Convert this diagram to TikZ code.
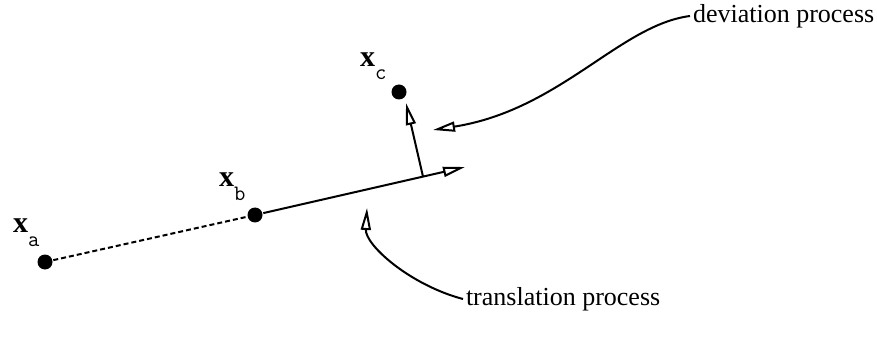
\documentclass[tikz,border=0pt]{standalone}
\usepackage{fontspec}
\setmainfont{Liberation Serif}
\usetikzlibrary{arrows.meta,calc}

\newcommand{\vlab}[1]{{\bfseries x}\raisebox{-6.5pt}{\fontsize{11}{11}\selectfont\ttfamily #1}}

\begin{document}
\begin{tikzpicture}[x=0.5pt,y=-0.5pt,line width=1pt,
  every node/.style={font=\fontsize{13}{15}\selectfont},
  pt/.style={circle,fill=black,inner sep=0pt,minimum size=7.5pt},
  vname/.style={anchor=base west,inner sep=0pt,font=\fontsize{15}{15}\selectfont},
  opn/.style={-{Triangle[open,length=11pt,width=5pt]}}]
\useasboundingbox (0,0) rectangle (877,347);
% points
\node[pt] (xa) at (45,262) {};
\node[pt] (xb) at (255,215) {};
\node[pt] (xc) at (399,92) {};
\node[vname] (la) at (12,233) {\vlab{a}};
\node[vname] (lb) at (218,187) {\vlab{b}};
\node[vname] (lc) at (359,67) {\vlab{c}};
% translation and deviation
\coordinate (tt) at (465,167);
\coordinate (foot) at ($(xb)!0.8!(tt)$);
\coordinate (dt) at (406,103);
\draw[dash pattern=on 2.5pt off 1.5pt] (xa) -- (xb);
\draw[opn] (xb) -- (tt);
\draw[opn] (foot) -- (dt);
% labels
\node[anchor=west,inner sep=1pt] (dev) at (690,16) {deviation process};
\node[anchor=west,inner sep=1pt] (trans) at (463,299) {translation process};
\draw[opn] (dev.west) .. controls (620,25) and (560,110) .. (433,130);
\draw[opn] (trans.west) .. controls (410,285) and (365,245) .. (367,208);
\end{tikzpicture}
\end{document}
